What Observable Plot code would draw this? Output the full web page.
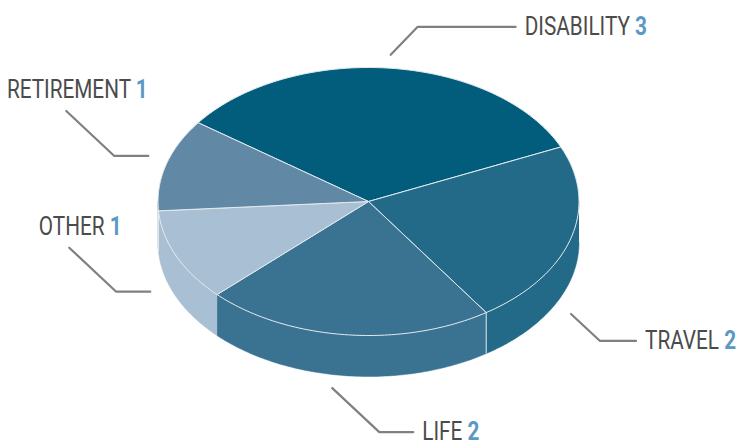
<!DOCTYPE html>
<html>
<head>
<meta charset="utf-8">
<script src="https://cdn.jsdelivr.net/npm/d3@7"></script>
<script src="https://cdn.jsdelivr.net/npm/@observablehq/plot@0.6"></script>
<style>
  html, body { margin: 0; padding: 0; background: #fff; }
  #chart { width: 737px; height: 442px; }
</style>
</head>
<body>
<div id="chart"></div>
<script>
// ---- data ----
const categories = ["DISABILITY", "TRAVEL", "LIFE", "OTHER", "RETIREMENT"];
const values = [3, 2, 2, 1, 1];
const colors = ["#025d7c", "#236a89", "#3a7292", "#a9bfd3", "#6189a6"];

// ---- layout (pixel geometry of the 3D ellipse) ----
const W = 737, H = 442;
const CX = 368, CY = 201, RX = 210.5, RY = 134, DEPTH = 41;
const START = -54 * Math.PI / 180;
const deg = Math.PI / 180;
const TEXT_SCALE = 0.83;
// label leader layout: anchor angle on the ellipse (deg, clockwise from top), which rim, direction
const labelLayout = [
  {angle: 5.5,   rim: "top",    kind: "right", dx: 27, dy: -28, h: 98},
  {angle: 119,   rim: "bottom", kind: "right", dx: 29, dy: 27,  h: 36},
  {angle: 189,   rim: "bottom", kind: "right", dx: 47, dy: 44,  h: 34},
  {angle: 250.5, rim: "bottom", kind: "left",  dx: -47, dy: -44, h: 34},
  {angle: 288,   rim: "top",    kind: "left",  dx: -48, dy: -45, h: 34}
];

const pt = (t, r = 1, drop = 0) => ({x: CX + RX * r * Math.sin(t), y: CY + drop - RY * r * Math.cos(t)});

const arcs = d3.pie().sort(null).startAngle(START).endAngle(START + 2 * Math.PI)(values);

// top faces
const topPts = [];
arcs.forEach((a, i) => {
  const key = categories[i];
  const c = {x: CX, y: CY};
  topPts.push({key, color: colors[i], ...c});
  const n = Math.max(2, Math.ceil((a.endAngle - a.startAngle) / deg));
  for (let k = 0; k <= n; k++) {
    const t = a.startAngle + (a.endAngle - a.startAngle) * k / n;
    topPts.push({key, color: colors[i], ...pt(t)});
  }
  topPts.push({key, color: colors[i], ...c});
});

// side walls (front half only: angles between 90 and 270 deg)
const sidePts = [];
const dividers = [];
const F0 = Math.PI / 2, F1 = 3 * Math.PI / 2;
arcs.forEach((a, i) => {
  for (const shift of [0, 2 * Math.PI, -2 * Math.PI]) {
    const s = Math.max(a.startAngle + shift, F0), e = Math.min(a.endAngle + shift, F1);
    if (e <= s) continue;
    const key = categories[i] + shift;
    const n = Math.max(2, Math.ceil((e - s) / deg));
    const upper = [], lower = [];
    for (let k = 0; k <= n; k++) {
      const t = s + (e - s) * k / n;
      upper.push(pt(t));
      lower.push(pt(t, 1, DEPTH));
    }
    [...upper, ...lower.reverse()].forEach(p => sidePts.push({key, color: colors[i], ...p}));
    if (a.startAngle + shift > F0 && a.startAngle + shift < F1 && i !== 3) {
      const p1 = pt(a.startAngle + shift), p2 = pt(a.startAngle + shift, 1, DEPTH);
      dividers.push({x1: p1.x, y1: p1.y, x2: p2.x, y2: p2.y});
    }
  }
});

// leaders and labels
const leaderPts = [];
const rightLabels = [], leftLabels = [];
labelLayout.forEach((L, i) => {
  const drop = L.rim === "bottom" ? DEPTH : 0;
  const p = pt(L.angle * deg, 1.1, drop);
  const key = categories[i];
  if (L.kind === "right") {
    const e = {x: p.x + L.dx, y: p.y + L.dy};
    const f = {x: e.x + L.h, y: e.y};
    [p, e, f].forEach(q => leaderPts.push({key, ...q}));
    rightLabels.push({name: categories[i], value: values[i], x: f.x + 9, y: f.y});
  } else {
    const e = {x: p.x - L.h, y: p.y};
    const f = {x: e.x + L.dx, y: e.y + L.dy};
    [p, e, f].forEach(q => leaderPts.push({key, ...q}));
    leftLabels.push({name: categories[i], value: values[i], x: f.x + 11, y: f.y - 21});
  }
});

const font = "Roboto, 'Liberation Sans', sans-serif";
const chart = Plot.plot({
  width: W,
  height: H,
  margin: 0,
  x: {domain: [0, W], range: [0, W], axis: null},
  y: {domain: [0, H], range: [0, H], axis: null},
  color: {type: "identity"},
  style: {background: "#fff"},
  marks: [
    Plot.line(sidePts, {x: "x", y: "y", z: "key", fill: "color", stroke: "color", strokeWidth: 0.5, curve: "linear"}),
    Plot.link(dividers, {x1: "x1", y1: "y1", x2: "x2", y2: "y2", stroke: "#dfe7ed", strokeWidth: 1}),
    Plot.line(topPts, {x: "x", y: "y", z: "key", fill: "color", stroke: "#e3eaef", strokeWidth: 1, strokeLinejoin: "round", curve: "linear"}),
    Plot.line(leaderPts, {x: "x", y: "y", z: "key", stroke: "#808080", strokeWidth: 2.2, curve: "linear"}),
    Plot.text(rightLabels, {x: "x", y: "y", text: "name", textAnchor: "start", fill: "#4b4b4b", fontSize: 25, fontFamily: font}),
    Plot.text(leftLabels, {x: "x", y: "y", text: "name", textAnchor: "middle", fill: "#4b4b4b", fontSize: 25, fontFamily: font})
  ]
});

document.getElementById("chart").append(chart);

// two-colour, condensed labels: name in grey, value in blue
const byName = new Map(categories.map((c, i) => [c, values[i]]));
d3.select(chart).selectAll("text").each(function() {
  const name = this.textContent;
  if (!byName.has(name)) return;
  const sel = d3.select(this);
  sel.text(null);
  sel.append("tspan").text(name + " ");
  sel.append("tspan").attr("fill", "#5b98c5").attr("font-weight", "bold").text(byName.get(name));
  const len = this.getComputedTextLength();
  sel.attr("textLength", (len * TEXT_SCALE).toFixed(1)).attr("lengthAdjust", "spacingAndGlyphs");
});
</script>
</body>
</html>
